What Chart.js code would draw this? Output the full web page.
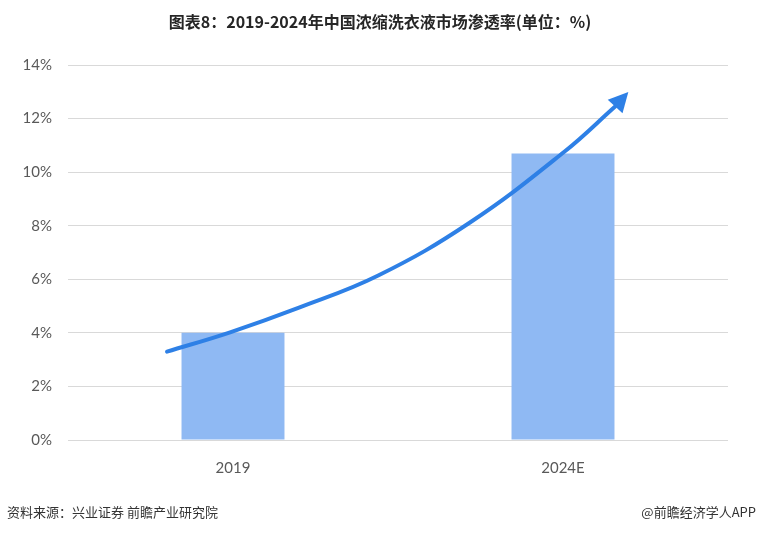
<!DOCTYPE html>
<html>
<head>
<meta charset="utf-8">
<script src="https://cdn.jsdelivr.net/npm/chart.js@4/dist/chart.umd.min.js"></script>
<style>
  html, body { margin: 0; padding: 0; background: #fff; }
  #wrap { position: relative; width: 760px; height: 534px; }
  #title { position: absolute; left: 0; top: 10px; width: 760px; text-align: center;
    font-family: "Noto Sans CJK SC", sans-serif; font-weight: bold; font-size: 16px; color: #262626; line-height: 22px; }
  .foot { position: absolute; top: 503px; font-family: "Noto Sans CJK SC", sans-serif; font-size: 13px; color: #333; line-height: 18px; }
  #src { left: 7px; }
  #app { right: 4px; }
  canvas { position: absolute; left: 0; top: 0; }
</style>
</head>
<body>
<div id="wrap">
  <canvas id="c" width="760" height="534"></canvas>
  <div id="title">图表8：2019-2024年中国浓缩洗衣液市场渗透率(单位：%)</div>
  <div class="foot" id="src">资料来源：兴业证券 前瞻产业研究院</div>
  <div class="foot" id="app">@前瞻经济学人APP</div>
</div>
<script>
const categories = ["2019", "2024E"];
const penetration = [4.0, 10.7];
const yTicks = [0, 2, 4, 6, 8, 10, 12, 14];
// trend arrow path (category index, % value)
const arrowX = [-0.20, -0.011, 0.20, 0.44, 0.717, 1.004, 1.158];
const arrowY = [3.30, 4.01, 4.94, 6.14, 8.11, 10.76, 12.45];
const arrowTip = [1.198, 12.99];

const arrowColor = "#2E80E6";

const arrowHead = {
  id: "arrowHead",
  afterDatasetsDraw(chart) {
    const xs = chart.scales.xa, ys = chart.scales.y;
    const n = arrowX.length - 1;
    const bx = xs.getPixelForValue(arrowX[n]), by = ys.getPixelForValue(arrowY[n]);
    const tx = xs.getPixelForValue(arrowTip[0]), ty = ys.getPixelForValue(arrowTip[1]);
    const dx = tx - bx, dy = ty - by, len = Math.hypot(dx, dy);
    const px = -dy / len, py = dx / len, hw = 10;
    const ctx = chart.ctx;
    ctx.save();
    ctx.fillStyle = arrowColor;
    ctx.beginPath();
    ctx.moveTo(tx, ty);
    ctx.lineTo(bx + px * hw, by + py * hw);
    ctx.lineTo(bx - px * hw, by - py * hw);
    ctx.closePath();
    ctx.fill();
    ctx.restore();
  }
};

new Chart(document.getElementById("c"), {
  type: "bar",
  data: {
    labels: categories,
    datasets: [
      {
        type: "line",
        xAxisID: "xa",
        yAxisID: "y",
        order: 0,
        data: arrowX.map((x, i) => ({ x: x, y: arrowY[i] })),
        borderColor: arrowColor,
        borderWidth: 4,
        pointRadius: 0,
        tension: 0.4,
        fill: false,
        borderCapStyle: "round"
      },
      {
        type: "bar",
        xAxisID: "x",
        yAxisID: "y",
        order: 1,
        grouped: false,
        data: penetration,
        backgroundColor: "#8FB9F3",
        categoryPercentage: 1,
        barPercentage: 0.312
      }
    ]
  },
  plugins: [arrowHead],
  options: {
    responsive: false,
    animation: false,
    events: [],
    layout: { padding: { top: 65, right: 32, bottom: 44, left: 0 } },
    plugins: { legend: { display: false }, tooltip: { enabled: false }, title: { display: false } },
    scales: {
      x: {
        type: "category",
        offset: true,
        grid: { display: false },
        border: { display: false },
        ticks: { color: "#595959", padding: 11, font: { family: "Lato, 'Open Sans', sans-serif", size: 15 } },
        afterFit(s) { s.height = 50; }
      },
      xa: {
        type: "linear",
        axis: "x",
        display: false,
        offset: false,
        min: -0.5,
        max: 1.5
      },
      y: {
        min: 0,
        max: 14,
        afterBuildTicks(s) { s.ticks = yTicks.map(v => ({ value: v })); },
        grid: { color: "#D9D9D9", lineWidth: 1, drawTicks: false },
        border: { display: false },
        ticks: {
          color: "#595959",
          padding: 16,
          font: { family: "Lato, 'Open Sans', sans-serif", size: 15 },
          callback: v => v + "%"
        },
        afterFit(s) { s.width = 68; }
      }
    }
  }
});
</script>
</body>
</html>
